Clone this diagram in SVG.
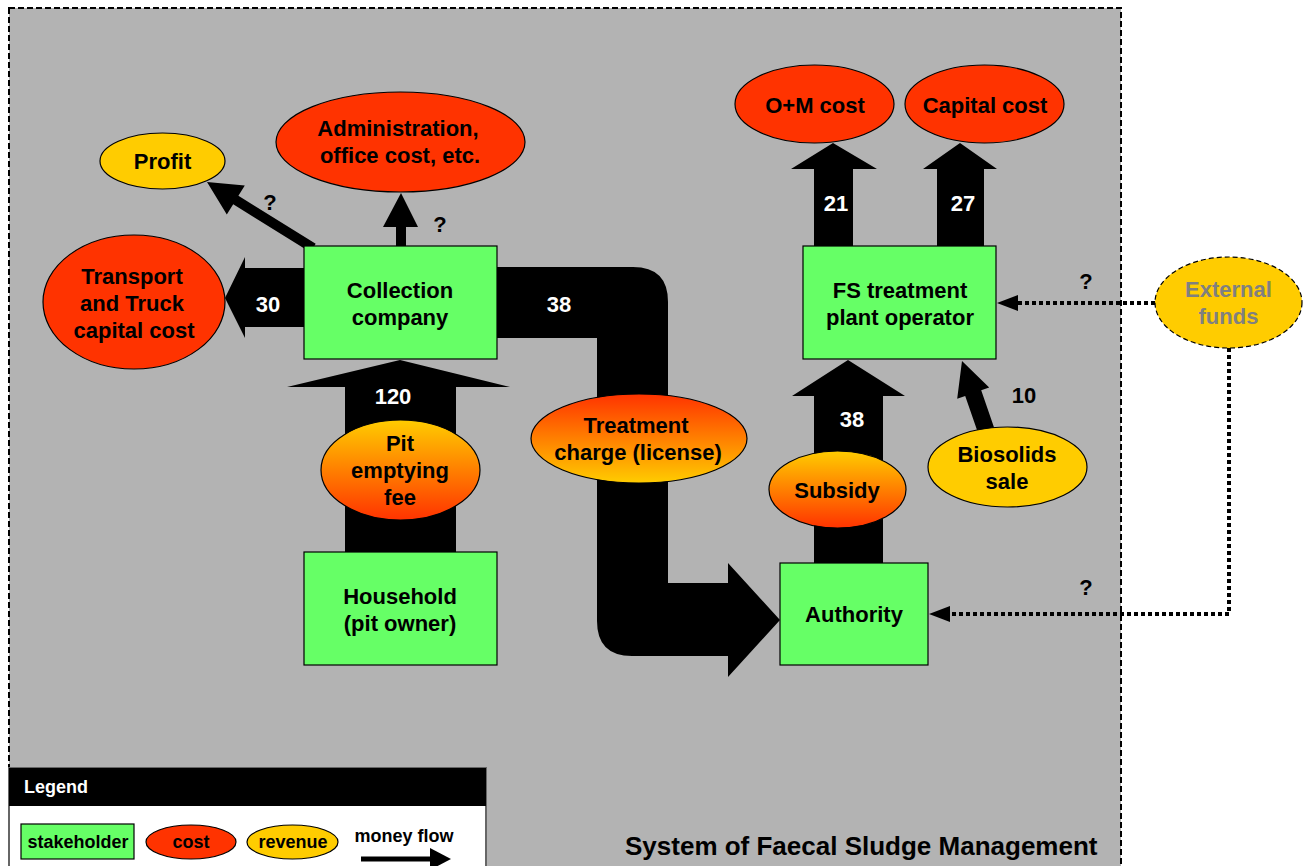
<svg xmlns="http://www.w3.org/2000/svg" width="1309" height="866" viewBox="0 0 1309 866">
  <style>
    text { font-family: "Liberation Sans", Arial, sans-serif; font-weight: bold; text-anchor: middle; }
    .lbl { font-size: 22px; fill: #000; }
    .num { font-size: 22px; fill: #fff; }
    .q { font-size: 22px; fill: #000; }
    .box { fill: #66ff66; stroke: #000; stroke-width: 1.2; }
    .cost { fill: #ff3300; stroke: #000; stroke-width: 1.2; }
    .rev { fill: #ffcc00; stroke: #000; stroke-width: 1.2; }
    .flow { fill: #000; }
    .dots { fill: none; stroke: #000; stroke-width: 4; stroke-dasharray: 4 3; }
    .leg { font-size: 18px; fill: #000; }
  </style>
  <defs>
    <linearGradient id="gYR" x1="0" y1="0" x2="0" y2="1">
      <stop offset="0" stop-color="#ffcc00"/>
      <stop offset="1" stop-color="#ff3300"/>
    </linearGradient>
    <linearGradient id="gRY" x1="0" y1="0" x2="0" y2="1">
      <stop offset="0" stop-color="#ff3300"/>
      <stop offset="1" stop-color="#ffcc00"/>
    </linearGradient>
  </defs>

  <rect x="0" y="0" width="1309" height="866" fill="#fff"/>
  <!-- system boundary -->
  <rect id="system" x="9" y="8" width="1112" height="880" fill="#b3b3b3" stroke="#000" stroke-width="2" stroke-dasharray="6 3"/>

  <g id="connectors">
    <!-- collection company -> transport (30) -->
    <polygon class="flow" points="304,268 245,268 245,257 225,298 245,338 245,327 304,327"/>
    <!-- collection company -> profit -->
    <polygon class="flow" points="315.7,243.8 238.4,195.8 244.8,185.6 207,182 226.8,214.4 233.2,204.2 310.4,252.2"/>
    <!-- collection company -> administration -->
    <polygon class="flow" points="396,246 396,227 383,227 401,193 418,227 406,227 406,246"/>
    <!-- household -> collection company (120) -->
    <polygon class="flow" points="345,552 345,387 287,387 400,360 510,387 456,387 456,552"/>
    <!-- collection company -> authority (38) -->
    <path class="flow" d="M497,267 H633 Q668,267 668,302 V583 H728 V563 L780,620 L728,677 V656 H632 Q597,656 597,621 V338 H497 Z"/>
    <!-- authority -> FS treatment plant operator (38) -->
    <polygon class="flow" points="814,563 814,396 792,396 848,360 905,396 883,396 883,563"/>
    <!-- biosolids sale -> FS treatment plant operator (10) -->
    <polygon class="flow" points="995,430.2 981.2,390.3 989.2,387.5 962,361 957.2,398.7 965.2,395.9 979,435.8"/>
    <!-- FS operator -> O+M cost (21) -->
    <polygon class="flow" points="814,246 814,169 791,169 833,143 877,169 853,169 853,246"/>
    <!-- FS operator -> capital cost (27) -->
    <polygon class="flow" points="937,246 937,169 923,169 960,143 997,169 984,169 984,246"/>
    <!-- external funds (dotted) -->
    <path class="dots" d="M1155,303 H1016"/>
    <polygon class="flow" points="997,303 1018,295 1018,311"/>
    <path class="dots" d="M1229,348 V614 H948"/>
    <polygon class="flow" points="929,614 950,606 950,622"/>

    <!-- flow values -->
    <text class="num" x="268" y="312">30</text>
    <text class="num" x="559" y="312">38</text>
    <text class="num" x="393" y="404">120</text>
    <text class="num" x="852" y="427">38</text>
    <text class="num" x="836" y="211">21</text>
    <text class="num" x="963" y="211">27</text>
    <text class="lbl" x="1024" y="403">10</text>
    <text class="q" x="270" y="210">?</text>
    <text class="q" x="440" y="232">?</text>
    <text class="q" x="1086" y="289">?</text>
    <text class="q" x="1086" y="595">?</text>
  </g>

  <g id="collection-company">
    <rect class="box" x="304" y="246" width="193" height="113"/>
    <text class="lbl" x="400" y="298">Collection</text>
    <text class="lbl" x="400" y="325">company</text>
  </g>
  <g id="household">
    <rect class="box" x="304" y="552" width="193" height="113"/>
    <text class="lbl" x="400" y="604">Household</text>
    <text class="lbl" x="400" y="631">(pit owner)</text>
  </g>
  <g id="fs-operator">
    <rect class="box" x="803" y="246" width="193" height="113"/>
    <text class="lbl" x="900" y="298">FS treatment</text>
    <text class="lbl" x="900" y="325">plant operator</text>
  </g>
  <g id="authority">
    <rect class="box" x="780" y="563" width="148" height="102"/>
    <text class="lbl" x="854" y="622">Authority</text>
  </g>

  <g id="transport-cost">
    <ellipse class="cost" cx="134" cy="302" rx="91" ry="67"/>
    <text class="lbl" x="132" y="284">Transport</text>
    <text class="lbl" x="132" y="311">and Truck</text>
    <text class="lbl" x="134" y="338">capital cost</text>
  </g>
  <g id="profit">
    <ellipse class="rev" cx="162.5" cy="161" rx="62.5" ry="28"/>
    <text class="lbl" x="162.5" y="169">Profit</text>
  </g>
  <g id="admin-cost">
    <ellipse class="cost" cx="400.5" cy="142" rx="124.5" ry="50"/>
    <text class="lbl" x="398" y="136">Administration,</text>
    <text class="lbl" x="400" y="163">office cost, etc.</text>
  </g>
  <g id="pit-emptying-fee">
    <ellipse fill="url(#gYR)" stroke="#000" stroke-width="1.2" cx="400.5" cy="470" rx="79.5" ry="50"/>
    <text class="lbl" x="400" y="451">Pit</text>
    <text class="lbl" x="400" y="478">emptying</text>
    <text class="lbl" x="400" y="505">fee</text>
  </g>
  <g id="treatment-charge">
    <ellipse fill="url(#gRY)" stroke="#000" stroke-width="1.2" cx="639" cy="438.5" rx="108" ry="44.5"/>
    <text class="lbl" x="636" y="433">Treatment</text>
    <text class="lbl" x="638" y="460">charge (license)</text>
  </g>
  <g id="subsidy">
    <ellipse fill="url(#gYR)" stroke="#000" stroke-width="1.2" cx="837.5" cy="489.5" rx="68.5" ry="38.5"/>
    <text class="lbl" x="837" y="498">Subsidy</text>
  </g>
  <g id="biosolids-sale">
    <ellipse class="rev" cx="1007.5" cy="467" rx="79.5" ry="40"/>
    <text class="lbl" x="1007" y="462">Biosolids</text>
    <text class="lbl" x="1007" y="489">sale</text>
  </g>
  <g id="om-cost">
    <ellipse class="cost" cx="814.5" cy="104" rx="79.5" ry="39"/>
    <text class="lbl" x="815" y="113">O+M cost</text>
  </g>
  <g id="capital-cost">
    <ellipse class="cost" cx="984.5" cy="104" rx="79.5" ry="39"/>
    <text class="lbl" x="985" y="113">Capital cost</text>
  </g>
  <g id="external-funds">
    <ellipse fill="#ffcc00" stroke="#000" stroke-width="1.2" stroke-dasharray="5 3" cx="1228.5" cy="302.5" rx="73.5" ry="45.5"/>
    <text class="lbl" x="1228.5" y="297" style="fill:#808080">External</text>
    <text class="lbl" x="1228.5" y="324" style="fill:#808080">funds</text>
  </g>

  <g id="legend">
    <rect x="9" y="768" width="477" height="110" fill="#fff" stroke="#666" stroke-width="2"/>
    <rect x="9" y="768" width="477" height="38" fill="#000"/>
    <text class="leg" x="24" y="793" style="fill:#fff;text-anchor:start">Legend</text>
    <rect class="box" x="21" y="824" width="113" height="35"/>
    <text class="leg" x="78" y="848">stakeholder</text>
    <ellipse class="cost" cx="191" cy="842" rx="45" ry="17"/>
    <text class="leg" x="191" y="848">cost</text>
    <ellipse class="rev" cx="292.5" cy="842" rx="45.5" ry="17"/>
    <text class="leg" x="293" y="848">revenue</text>
    <text class="leg" x="404" y="842">money flow</text>
    <rect x="361" y="856.5" width="71" height="5" fill="#000"/>
    <polygon points="430,848 451,859 430,870" fill="#000"/>
  </g>

  <text id="title" x="625" y="855" style="font-size:26px;text-anchor:start">System of Faecal Sludge Management</text>
</svg>
